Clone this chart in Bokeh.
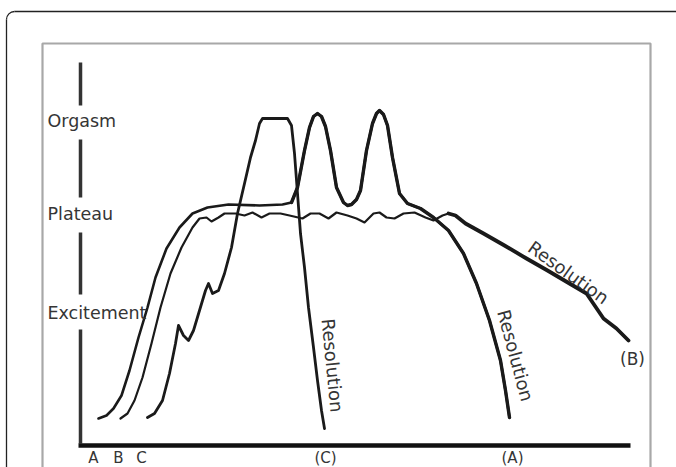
from bokeh.plotting import figure
from bokeh.models import Range1d
from bokeh.core.properties import value
from bokeh.embed import file_html
from bokeh.resources import INLINE

# ---------------- data (time units, arousal level units) ----------------
# Pattern A: excitement -> plateau -> two orgasms -> resolution
a_time = [18, 26, 33, 41, 49, 58, 67, 75, 86, 99, 112, 127, 148, 179, 202, 211,
          217, 224, 229, 233, 237, 241, 245, 250, 256, 263, 267, 271, 276, 280,
          286, 292, 296, 299, 303, 307, 312, 319, 327, 340, 353, 368, 383, 396,
          409, 420, 425, 429]
a_level = [25, 28, 35, 48, 73, 106, 136, 166, 195, 216, 230, 236, 239, 238, 239, 241,
           256, 293, 316, 327, 330, 327, 317, 293, 256, 241, 238, 239, 244, 253,
           293, 320, 330, 333, 329, 318, 286, 250, 240, 235, 226, 213, 190, 160,
           123, 83, 53, 26]

# Pattern B: excitement -> wavering plateau -> slow resolution
b_time = [40, 47, 54, 62, 71, 80, 90, 101, 112, 119, 126, 131, 138, 144, 155, 164,
          172, 181, 189, 200, 209, 222, 230, 239, 248, 256, 267, 276, 284, 293,
          299, 306, 314, 323, 334, 345, 353, 362, 368, 375, 385, 403, 424, 446,
          467, 489, 506, 523, 536, 548]
b_level = [25, 30, 43, 66, 100, 136, 170, 196, 216, 225, 226, 222, 226, 230, 230, 228,
           231, 226, 230, 230, 228, 225, 230, 230, 225, 231, 228, 225, 221, 230,
           231, 226, 225, 230, 231, 226, 223, 228, 230, 228, 220, 210, 198, 185,
           173, 160, 150, 125, 115, 103]

# Pattern C: stepped excitement -> long orgasm -> rapid resolution
c_time = [67, 74, 82, 89, 95, 98, 103, 108, 113, 119, 125, 128, 132, 138, 144, 151,
          157, 164, 170, 175, 179, 182, 192, 207, 211, 214, 217, 220, 224, 228,
          233, 237, 241, 244]
c_level = [26, 30, 43, 70, 100, 118, 108, 103, 113, 133, 153, 160, 150, 153, 170, 196,
           230, 260, 286, 303, 320, 325, 325, 325, 318, 290, 250, 210, 176, 136,
           96, 63, 33, 15]

b_resolution_start = 368   # time where pattern B leaves the plateau
a_orgasm_start = 211       # time where pattern A leaves the plateau

phase_names = ["Orgasm", "Plateau", "Excitement"]
phase_levels = [323, 230, 131]
# level bands of the vertical axis bars between phase names
axis_bar_bottoms = [338, 246, 149, 0]
axis_bar_tops = [381, 304, 211, 114]

start_labels = ["A", "B", "C"]
start_times = [13, 38, 61]
end_labels = ["(C)", "(A)"]
end_times = [245, 432]

res_times = [252, 435, 488]
res_levels = [78, 88, 171]
res_angles = [-84.5, -75, -35.5]

# ---------------- figure ----------------
p = figure(width=676, height=467, x_range=Range1d(-80, 596), y_range=Range1d(-24, 443),
           output_backend="svg", toolbar_location=None, min_border=0,
           x_axis_location=None, y_axis_location=None)
p.grid.visible = False
p.outline_line_color = None
p.background_fill_color = "white"
p.border_fill_color = "white"

ink = "#1a1a1a"
txt = "#353535"
font = value("DejaVu Sans")

# outer rounded frame
r = 8
p.segment(x0=[-74], y0=[-40], x1=[-74], y1=[432 - r], line_color="#222", line_width=1.3)
p.segment(x0=[-74 + r], y0=[432], x1=[640], y1=[432], line_color="#222", line_width=1.3)
p.arc(x=[-74 + r], y=[432 - r], radius=r, start_angle=90, end_angle=180,
      start_angle_units="deg", end_angle_units="deg", line_color="#222", line_width=1.3)

# inner grey frame
p.line(x=[-38, -38, 570, 570], y=[-40, 400, 400, -40], line_color="#a8a8a8", line_width=2.2)

# vertical axis bars
p.segment(x0=[0] * 4, y0=axis_bar_bottoms, x1=[0] * 4, y1=axis_bar_tops,
          line_color="#333333", line_width=3.5)
# horizontal time axis
p.segment(x0=[-2], y0=[-2], x1=[550], y1=[-2], line_color="#111111", line_width=4.5)

# curves
p.line(a_time, a_level, line_color=ink, line_width=2.6, line_join="round", line_cap="round")
ia = a_time.index(a_orgasm_start)
p.line(a_time[ia:], a_level[ia:], line_color=ink, line_width=3.4, line_join="round", line_cap="round")

p.line(b_time, b_level, line_color=ink, line_width=2.2, line_join="round", line_cap="round")
ib = b_time.index(b_resolution_start)
p.line(b_time[ib:], b_level[ib:], line_color=ink, line_width=3.8, line_join="round", line_cap="round")

p.line(c_time, c_level, line_color=ink, line_width=2.8, line_join="round", line_cap="round")

# texts
p.text(x=[-33] * 3, y=phase_levels, text=phase_names, text_font=font,
       text_font_size="17.5px", text_color=txt, text_align="left", text_baseline="middle")
p.text(x=start_times, y=[-5] * 3, text=start_labels, text_font=font,
       text_font_size="15px", text_color=txt, text_align="center", text_baseline="top")
p.text(x=end_times, y=[-5] * 2, text=end_labels, text_font=font,
       text_font_size="15px", text_color=txt, text_align="center", text_baseline="top")
p.text(x=[552], y=[85], text=["(B)"], text_font=font,
       text_font_size="17px", text_color=txt, text_align="center", text_baseline="middle")
p.text(x=res_times, y=res_levels, text=["Resolution"] * 3, angle=res_angles, angle_units="deg",
       text_font=font, text_font_size="18px", text_color=txt,
       text_align="center", text_baseline="middle")

open("out.html", "w").write(file_html(p, INLINE))
